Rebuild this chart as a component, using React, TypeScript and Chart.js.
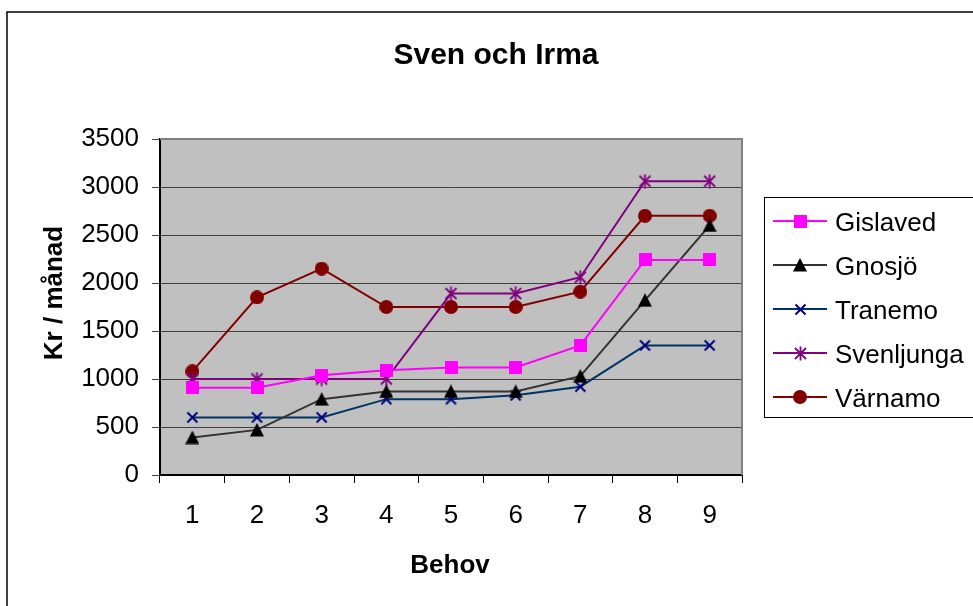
import React, { useEffect, useRef } from 'react';
import { Chart, registerables } from 'chart.js';

Chart.register(...registerables);

const FONT = "'Liberation Sans', Arial, sans-serif";

const chartTitle = 'Sven och Irma';
const xTitle = 'Behov';
const yTitle = 'Kr / månad';
const categories = ['1', '2', '3', '4', '5', '6', '7', '8', '9'];
const yTicks = [0, 500, 1000, 1500, 2000, 2500, 3000, 3500];

const seriesNames = ['Gislaved', 'Gnosjö', 'Tranemo', 'Svenljunga', 'Värnamo'];
const gislaved = [910, 910, 1040, 1090, 1120, 1120, 1350, 2240, 2240];
const gnosjo = [390, 470, 790, 870, 870, 870, 1030, 1820, 2600];
const tranemo = [600, 600, 600, 790, 790, 830, 920, 1350, 1350];
const svenljunga = [1000, 1000, 1000, 1000, 1890, 1890, 2060, 3060, 3060];
const varnamo = [1080, 1850, 2150, 1750, 1750, 1750, 1910, 2700, 2700];

const lineColors = ['#FF00FF', '#333333', '#003366', '#800080', '#800000'];

function makeCanvas(size: number, draw: (c: CanvasRenderingContext2D) => void) {
  const c = document.createElement('canvas');
  c.width = size;
  c.height = size;
  const ctx = c.getContext('2d')!;
  draw(ctx);
  return c;
}

function makeMarkers() {
  const square = makeCanvas(13, (c) => {
    c.fillStyle = '#FF00FF';
    c.fillRect(0, 0, 13, 13);
  });
  const triangle = makeCanvas(14, (c) => {
    c.fillStyle = '#000000';
    c.beginPath();
    c.moveTo(7, 0);
    c.lineTo(14, 13.5);
    c.lineTo(0, 13.5);
    c.closePath();
    c.fill();
  });
  const cross = makeCanvas(13, (c) => {
    c.strokeStyle = '#000080';
    c.lineWidth = 2;
    c.beginPath();
    c.moveTo(1.5, 1.5);
    c.lineTo(11.5, 11.5);
    c.moveTo(11.5, 1.5);
    c.lineTo(1.5, 11.5);
    c.stroke();
  });
  const star = makeCanvas(15, (c) => {
    c.strokeStyle = '#800080';
    c.lineWidth = 1.8;
    c.beginPath();
    c.moveTo(2, 2);
    c.lineTo(13, 13);
    c.moveTo(13, 2);
    c.lineTo(2, 13);
    c.moveTo(7.5, 0.5);
    c.lineTo(7.5, 14.5);
    c.stroke();
  });
  const circle = makeCanvas(14, (c) => {
    c.fillStyle = '#800000';
    c.beginPath();
    c.arc(7, 7, 7, 0, Math.PI * 2);
    c.fill();
  });
  return [square, triangle, cross, star, circle];
}

export default function App() {
  const ref = useRef<HTMLCanvasElement>(null);

  useEffect(() => {
    if (!ref.current) return;
    const markers = makeMarkers();
    const values = [gislaved, gnosjo, tranemo, svenljunga, varnamo];

    const decor = {
      id: 'decor',
      beforeDraw(chart: any) {
        const { ctx, chartArea: a } = chart;
        ctx.save();
        ctx.fillStyle = '#C0C0C0';
        ctx.fillRect(a.left, a.top, a.right - a.left, a.bottom - a.top);
        ctx.strokeStyle = '#000000';
        ctx.lineWidth = 1.5;
        ctx.strokeRect(7, 12, 1200, 1200);
        ctx.restore();
      },
      beforeDatasetsDraw(chart: any) {
        const { ctx, chartArea: a } = chart;
        ctx.save();
        ctx.strokeStyle = '#808080';
        ctx.lineWidth = 2;
        ctx.beginPath();
        ctx.moveTo(a.left, a.top);
        ctx.lineTo(a.right, a.top);
        ctx.lineTo(a.right, a.bottom);
        ctx.stroke();
        ctx.restore();
      },
      afterDraw(chart: any) {
        const { ctx } = chart;
        ctx.save();
        ctx.fillStyle = '#000000';
        ctx.textBaseline = 'alphabetic';
        ctx.textAlign = 'center';
        ctx.font = `bold 30px ${FONT}`;
        ctx.fillText(chartTitle, 496, 64);
        ctx.font = `bold 26px ${FONT}`;
        ctx.fillText(xTitle, 450, 573);
        ctx.save();
        ctx.translate(62, 293);
        ctx.rotate(-Math.PI / 2);
        ctx.fillText(yTitle, 0, 0);
        ctx.restore();

        // legend
        ctx.strokeStyle = '#000000';
        ctx.lineWidth = 1;
        ctx.strokeRect(764.5, 197.5, 300, 220);
        const ys = [221, 265, 309, 353, 397];
        ctx.font = `26px ${FONT}`;
        ctx.textAlign = 'left';
        chart.data.datasets.forEach((ds: any, i: number) => {
          const y = ys[i];
          ctx.strokeStyle = ds.borderColor;
          ctx.lineWidth = 2;
          ctx.beginPath();
          ctx.moveTo(773, y);
          ctx.lineTo(827, y);
          ctx.stroke();
          const m = ds.pointStyle as HTMLCanvasElement;
          ctx.drawImage(m, Math.round(800 - m.width / 2), Math.round(y - m.height / 2));
          ctx.fillStyle = '#000000';
          ctx.fillText(ds.label, 835, y + 9.5);
        });
        ctx.restore();
      },
    };

    const chart = new Chart(ref.current, {
      type: 'line',
      data: {
        labels: categories,
        datasets: seriesNames.map((name, i) => ({
          label: name,
          data: values[i],
          borderColor: lineColors[i],
          backgroundColor: lineColors[i],
          borderWidth: 2,
          pointStyle: markers[i] as any,
          pointRadius: 6,
          pointHoverRadius: 6,
          tension: 0,
          fill: false,
        })),
      },
      options: {
        animation: false,
        responsive: false,
        devicePixelRatio: 1,
        events: [],
        layout: { padding: { top: 139, left: 0, right: 231, bottom: 0 } },
        plugins: {
          legend: { display: false },
          title: { display: false },
          tooltip: { enabled: false },
        },
        scales: {
          x: {
            offset: true,
            grid: {
              offset: true,
              drawOnChartArea: false,
              drawTicks: true,
              tickLength: 8,
              color: '#000000',
              lineWidth: 1,
            },
            border: { color: '#000000', width: 2 },
            ticks: {
              font: { family: FONT, size: 26 },
              color: '#000000',
              padding: 17,
              maxRotation: 0,
              autoSkip: false,
            },
            afterFit: (s: any) => {
              s.height = 131;
            },
          },
          y: {
            min: 0,
            max: 3500,
            afterBuildTicks: (s: any) => {
              s.ticks = yTicks.map((v) => ({ value: v }));
            },
            ticks: {
              font: { family: FONT, size: 26 },
              color: '#000000',
              padding: 13,
              callback: (v: any) => String(v),
            },
            grid: { color: '#404040', lineWidth: 1, tickLength: 8 },
            border: { color: '#000000', width: 2 },
            afterFit: (s: any) => {
              s.width = 160;
            },
          },
        },
      },
      plugins: [decor],
    });
    return () => chart.destroy();
  }, []);

  return (
    <div style={{ position: 'absolute', left: 0, top: 0, width: 973, height: 606, background: '#fff' }}>
      <canvas ref={ref} width={973} height={606} style={{ display: 'block' }} />
    </div>
  );
}
